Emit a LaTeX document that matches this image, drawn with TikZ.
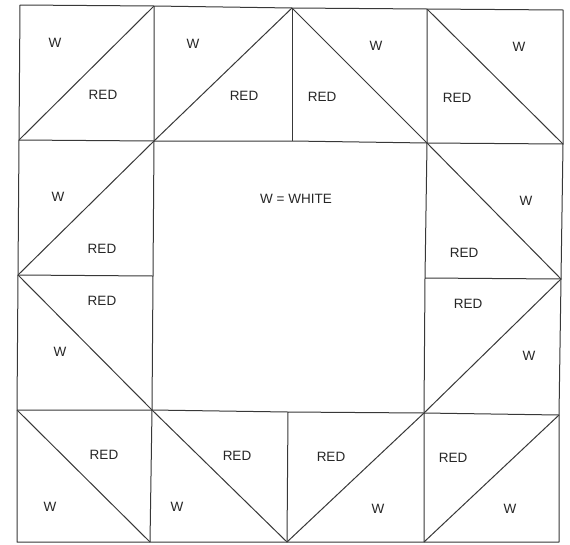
\documentclass[tikz,border=0pt]{standalone}
\usepackage{fontspec}
\setmainfont{Liberation Sans}
\begin{document}
\begin{tikzpicture}[x=1pt,y=-1pt,
  edge/.style={draw=black!78,line width=1pt,line join=round},
  lbl/.style={text=black!85,font=\fontsize{13.5}{14}\selectfont,inner sep=0pt}]
\fill[white] (0,0) rectangle (570,544);
\useasboundingbox (0,0) rectangle (570,544);
% grid points
\coordinate (a0) at (20,5);   \coordinate (a1) at (154,6);   \coordinate (a2) at (292,8);   \coordinate (a3) at (427,9);   \coordinate (a4) at (563,10);
\coordinate (b0) at (19,140); \coordinate (b1) at (154,141); \coordinate (b2) at (292,141); \coordinate (b3) at (427,143); \coordinate (b4) at (563,144);
\coordinate (c0) at (18,275); \coordinate (c1) at (153,276); \coordinate (c3) at (425,278); \coordinate (c4) at (561,279);
\coordinate (d0) at (17,410); \coordinate (d1) at (152,410); \coordinate (d2) at (288,412); \coordinate (d3) at (424,413); \coordinate (d4) at (559,415);
\coordinate (e0) at (17,542); \coordinate (e1) at (150,542); \coordinate (e2) at (287,542); \coordinate (e3) at (424,542); \coordinate (e4) at (559,542);
% outline and grid
\draw[edge] (a0) -- (a1) -- (a2) -- (a3) -- (a4) -- (b4) -- (c4) -- (d4) -- (e4) -- (e3) -- (e2) -- (e1) -- (e0) -- (d0) -- (c0) -- (b0) -- cycle;
\draw[edge] (b0) -- (b1) -- (b2) -- (b3) -- (b4);
\draw[edge] (d0) -- (d1) -- (d2) -- (d3) -- (d4);
\draw[edge] (c0) -- (c1);
\draw[edge] (c3) -- (c4);
\draw[edge] (a1) -- (b1) -- (c1) -- (d1) -- (e1);
\draw[edge] (a2) -- (b2);
\draw[edge] (d2) -- (e2);
\draw[edge] (a3) -- (b3) -- (c3) -- (d3) -- (e3);
% diagonals
\draw[edge] (b0) -- (a1);
\draw[edge] (b1) -- (a2);
\draw[edge] (a2) -- (b3);
\draw[edge] (a3) -- (b4);
\draw[edge] (c0) -- (b1);
\draw[edge] (c0) -- (d1);
\draw[edge] (b3) -- (c4);
\draw[edge] (c4) -- (d3);
\draw[edge] (d0) -- (e1);
\draw[edge] (d1) -- (e2);
\draw[edge] (d3) -- (e2);
\draw[edge] (d4) -- (e3);
% labels
\node[lbl] (w1) at (55,43) {W};   \node[lbl] (r1) at (103,95) {RED};
\node[lbl] (w2) at (193,44) {W};  \node[lbl] (r2) at (244,96) {RED};
\node[lbl] (w3) at (376,46) {W};  \node[lbl] (r3) at (322,97) {RED};
\node[lbl] (w4) at (519,47) {W};  \node[lbl] (r4) at (457,98) {RED};
\node[lbl] (w5) at (58,197) {W};  \node[lbl] (r5) at (102,249) {RED};
\node[lbl] (r6) at (102,301) {RED}; \node[lbl] (w6) at (60,352) {W};
\node[lbl] (w7) at (526,201) {W}; \node[lbl] (r7) at (464,253) {RED};
\node[lbl] (r8) at (468,304) {RED}; \node[lbl] (w8) at (529,356) {W};
\node[lbl] (r9) at (104,455) {RED}; \node[lbl] (w9) at (50,507) {W};
\node[lbl] (r10) at (237,456) {RED}; \node[lbl] (w10) at (177,507) {W};
\node[lbl] (r11) at (331,457) {RED}; \node[lbl] (w11) at (378,509) {W};
\node[lbl] (r12) at (453,458) {RED}; \node[lbl] (w12) at (510,509) {W};
\node[lbl] (key) at (296,199) {W = WHITE};
\end{tikzpicture}
\end{document}
